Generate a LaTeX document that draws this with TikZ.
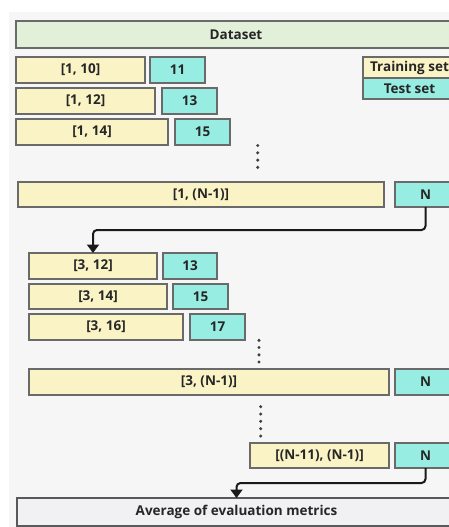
\documentclass[tikz,border=0pt]{standalone}
\usepackage{fontspec}
\setmainfont{Open Sans}
\usetikzlibrary{arrows.meta,calc}
\definecolor{bgc}{HTML}{F7F6F7}
\definecolor{trainc}{HTML}{FAF3C6}
\definecolor{testc}{HTML}{98EDE3}
\definecolor{dsc}{HTML}{E2EFD9}
\definecolor{avgc}{HTML}{F1F0F2}
\definecolor{edgec}{HTML}{6A6A6A}
\definecolor{arrc}{HTML}{1A1A1A}
\tikzset{
  box/.style={draw=edgec, line width=1.3pt, inner sep=0pt, outer sep=0pt,
    font=\fontsize{13.5}{15}\selectfont\bfseries, text=black!85},
  trainbox/.style={box, fill=trainc},
  testbox/.style={box, fill=testc},
  dsbox/.style={box, fill=dsc},
  avgbox/.style={box, fill=avgc, draw=black!65},
  arr/.style={draw=arrc, line width=2pt, rounded corners=4pt, -{Triangle[width=12pt,length=8.5pt]}},
  vdot/.style={fill=black!75, draw=none, circle, minimum size=3.4pt, inner sep=0pt}
}
\newcommand{\bx}[7]{\node[#1, minimum width=#5pt, minimum height=#6pt] (#2) at (#3,#4) {#7};}
\begin{document}
\begin{tikzpicture}[x=1pt,y=-1pt]
\useasboundingbox (0,0) rectangle (449,527);
\clip (0,0) rectangle (449,527);
\fill[bgc] (9,12) rectangle (470,540);
\bx{dsbox}{ds}{236}{34.5}{440}{27}{Dataset}
% legend
\bx{trainbox}{legtr}{409.5}{67.5}{93}{21}{Training set}
\bx{testbox}{legte}{409.5}{88.5}{93}{21}{Test set}
% first block
\bx{trainbox}{a1}{80.5}{70}{129}{26}{[1, 10]}
\bx{testbox}{b1}{177.5}{70}{55}{26}{11}
\bx{trainbox}{a2}{85.5}{101}{139}{26}{[1, 12]}
\bx{testbox}{b2}{189.5}{101}{55}{26}{13}
\bx{trainbox}{a3}{92}{132}{152}{26}{[1, 14]}
\bx{testbox}{b3}{202.5}{132}{55}{26}{15}
\foreach \yy [count=\i] in {145.5,152.8,160.1,167.4} \node[vdot] (d1\i) at (257.7,\yy) {};
\bx{trainbox}{aN}{201}{194.5}{366}{25}{[1, (N-1)]}
\bx{testbox}{bN}{425.5}{194.5}{61}{25}{N}
% second block
\bx{trainbox}{c1}{93}{266}{128}{26}{[3, 12]}
\bx{testbox}{e1}{190}{266}{54}{26}{13}
\bx{trainbox}{c2}{98}{296.5}{138}{25}{[3, 14]}
\bx{testbox}{e2}{200.5}{296.5}{55}{25}{15}
\bx{trainbox}{c3}{106}{327}{154}{26}{[3, 16]}
\bx{testbox}{e3}{217.5}{327}{55}{26}{17}
\foreach \yy [count=\i] in {340.3,347.5,354.8,362} \node[vdot] (d2\i) at (259,\yy) {};
\bx{trainbox}{cN}{209}{382}{360}{26}{[3, (N-1)]}
\bx{testbox}{eN}{425.5}{382}{61}{26}{N}
\foreach \yy [count=\i] in {406.7,414,421.3,428.7,436} \node[vdot] (d3\i) at (260.7,\yy) {};
\bx{trainbox}{fN}{319.5}{455.5}{139}{25}{[(N-11), (N-1)]}
\bx{testbox}{gN}{425.5}{455.5}{61}{25}{N}
\bx{avgbox}{avg}{236.5}{512}{439}{28}{Average of evaluation metrics}
% connectors
\draw[arr] (bN.south) |- ($(bN.south)!0.5!(c1.north)$) -| (c1.north);
\draw[arr] (gN.south) |- ($(gN.south)!0.5!(avg.north)$) -| (avg.north);
\end{tikzpicture}
\end{document}
